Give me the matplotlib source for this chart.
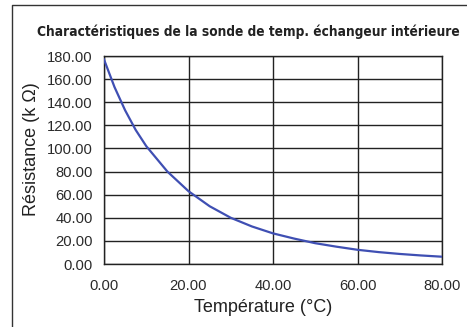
import matplotlib.pyplot as plt
from matplotlib.lines import Line2D

W, H = 467, 327

# values (temperature in °C, resistance in kOhm)
temps = [0, 2.5, 5, 7.5, 10, 15, 20, 25, 30, 35, 40, 45, 50, 55, 60, 65, 70, 75, 80]
resist = [177, 153, 133, 116, 102, 80, 63, 50, 40, 32.5, 26.5, 22, 18, 15, 12.3, 10.3, 8.7, 7.4, 6.3]

x_ticks = [0, 20, 40, 60, 80]
y_ticks = [0, 20, 40, 60, 80, 100, 120, 140, 160, 180]

title = "Charactéristiques de la sonde de temp. échangeur intérieure"
x_label = "Température (°C)"
y_label = "Résistance (k \u03a9)"

plt.rcParams['font.family'] = ['Liberation Sans', 'DejaVu Sans']

fig = plt.figure(figsize=(W / 100, H / 100), dpi=100)
fig.patch.set_facecolor('white')

# outer frame (only left and top edges visible)
fig.add_artist(Line2D([12 / W, 12 / W, 1.0], [0.0, 1 - 5 / H, 1 - 5 / H],
                      transform=fig.transFigure, color='#333333', lw=1.0))

ax = fig.add_axes([104 / W, (H - 264) / H, 338 / W, 208 / H])
ax.plot(temps, resist, color='#3f4fb3', lw=1.6, zorder=3)

ax.set_xlim(0, 80)
ax.set_ylim(0, 180)
ax.set_xticks(x_ticks)
ax.set_yticks(y_ticks)
ax.set_xticklabels([f"{v:.2f}" for v in x_ticks])
ax.set_yticklabels([f"{v:.2f}" for v in y_ticks])
ax.tick_params(length=0, labelsize=10.6, colors='#2a2a2a')
ax.tick_params(axis='x', pad=11)
ax.tick_params(axis='y', pad=8)
ax.grid(True, color='#222222', lw=1.0)
for s in ax.spines.values():
    s.set_color('#222222')
    s.set_linewidth(1.0)

fig.text(263 / W, 1 - 308 / H, x_label, ha='center', va='center', fontsize=13, color='#222222')
fig.text(32 / W, 1 - 149 / H, y_label, ha='center', va='center', rotation=90, fontsize=13, color='#222222')
fig.text(248 / W, 1 - 32 / H, title, ha='center', va='center', fontsize=9.8,
         fontweight='bold', family='DejaVu Sans', fontstretch='condensed', color='#222222')

fig.savefig('out.png', dpi=100)
